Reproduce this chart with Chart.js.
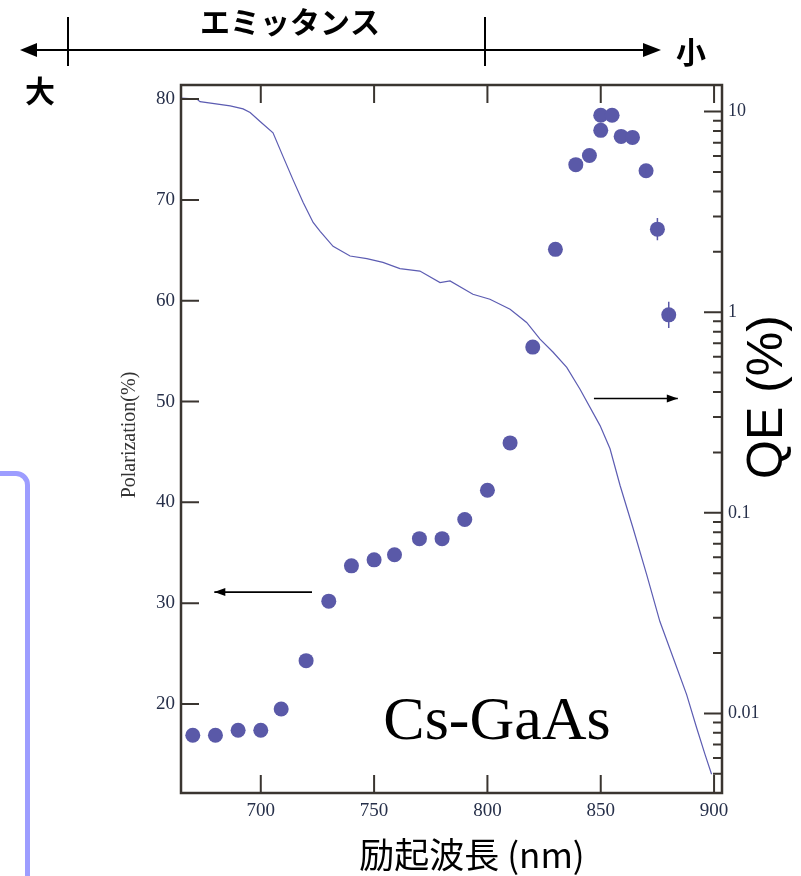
<!DOCTYPE html>
<html>
<head>
<meta charset="utf-8">
<script src="https://cdn.jsdelivr.net/npm/chart.js@4.4.1/dist/chart.umd.min.js"></script>
<style>
html, body { margin: 0; padding: 0; background: #fff; }
#wrap { position: relative; width: 801px; height: 876px; overflow: hidden; }
#box { position: absolute; left: -40px; top: 471px; width: 60px; height: 460px; border: 5px solid #9d9dff; border-radius: 14px; }
canvas { position: absolute; left: 0; top: 0; }
</style>
</head>
<body>
<div id="wrap">
  <div id="box"></div>
  <canvas id="chart" width="801" height="876"></canvas>
</div>
<script>
// 偏極度 (左軸)
const polWavelength = [670, 680, 690, 700, 709, 720, 730, 740, 750, 759, 770, 780, 790, 800, 810, 820, 830, 839, 845, 850, 850, 855, 859, 864, 870, 875, 880];
const polValues = [16.9, 16.9, 17.4, 17.4, 19.5, 24.3, 30.2, 33.7, 34.3, 34.8, 36.4, 36.4, 38.3, 41.2, 45.9, 55.4, 65.1, 73.5, 74.4, 76.9, 78.4, 78.4, 76.3, 76.2, 72.9, 67.1, 58.6];
const polErrors = [0, 0, 0, 0, 0, 0, 0, 0, 0, 0, 0, 0, 0, 0, 0, 0, 0, 0, 0, 0, 0, 0, 0, 0, 0.4, 1.1, 1.3];

// 量子効率 QE (右軸, log)
const qeWavelength = [664.8, 671.8, 673.2, 686.5, 692.2, 695.3, 699.7, 705.4, 709.8, 714.2, 718.7, 723.1, 726.2, 731.9, 739.4, 746.8, 753.9, 761.4, 770.2, 779.1, 783.5, 793.6, 801.1, 810.0, 817.3, 823.2, 828.9, 835.0, 840.8, 849.7, 854.1, 858.5, 864.3, 870.3, 876.1, 882.0, 887.9, 892.3, 896.0, 898.9];
const qeValues = [11.66, 11.56, 11.21, 10.67, 10.31, 9.89, 8.92, 7.84, 5.98, 4.58, 3.52, 2.80, 2.53, 2.13, 1.905, 1.848, 1.772, 1.649, 1.604, 1.404, 1.431, 1.229, 1.160, 1.035, 0.889, 0.734, 0.633, 0.531, 0.414, 0.272, 0.2086, 0.1372, 0.0835, 0.0490, 0.0287, 0.01889, 0.01241, 0.00848, 0.00625, 0.00497];

// 目盛り
const xTicks = [700, 750, 800, 850, 900];
const polTicks = [20, 30, 40, 50, 60, 70, 80];
const qeMajorTicks = [0.01, 0.1, 1, 10];
const qeMinorSteps = [2, 3, 4, 5, 6, 7, 8, 9];

const qeTicks = [];
[0.001, 0.01, 0.1, 1, 10].forEach(function(d) {
    qeTicks.push(d);
    qeMinorSteps.forEach(function(m) { qeTicks.push(+(d * m).toPrecision(3)); });
});

const serif = 'Liberation Serif';
const cjk = '"Noto Sans CJK JP"';
const tickColor = '#27304a';
const frameColor = '#3a3530';

// 内向き目盛りと枠
const frameTicks = {
    id: 'frameTicks',
    afterDatasetsDraw(chart) {
        const a = chart.chartArea, c = chart.ctx;
        const sx = chart.scales.x, sy = chart.scales.y, sq = chart.scales.y1;
        c.save();
        c.strokeStyle = frameColor;
        c.lineWidth = 2.5;
        c.strokeRect(a.left, a.top, a.right - a.left, a.bottom - a.top);
        c.lineWidth = 2;
        c.beginPath();
        xTicks.forEach(function(v) {
            const px = sx.getPixelForValue(v);
            c.moveTo(px, a.bottom); c.lineTo(px, a.bottom - 18);
            c.moveTo(px, a.top); c.lineTo(px, a.top + 18);
        });
        polTicks.forEach(function(v) {
            const py = sy.getPixelForValue(v);
            if (py < a.top + 2) return;
            c.moveTo(a.left, py); c.lineTo(a.left + 18, py);
        });
        qeTicks.forEach(function(v) {
            const py = sq.getPixelForValue(v);
            if (py < a.top || py > a.bottom) return;
            const len = qeMajorTicks.includes(v) ? 18 : 9;
            c.moveTo(a.right, py); c.lineTo(a.right - len, py);
        });
        c.stroke();

        // 誤差棒
        c.strokeStyle = '#5a59a8';
        c.lineWidth = 1.5;
        c.beginPath();
        polErrors.forEach(function(e, i) {
            if (!e) return;
            const px = sx.getPixelForValue(polWavelength[i]);
            c.moveTo(px, sy.getPixelForValue(polValues[i] + e));
            c.lineTo(px, sy.getPixelForValue(polValues[i] - e));
        });
        c.stroke();
        c.restore();
    }
};

function arrow(c, x1, y1, x2, y2, head, half) {
    c.beginPath();
    c.moveTo(x1, y1); c.lineTo(x2, y2);
    c.stroke();
    const dir = Math.sign(x2 - x1);
    c.beginPath();
    c.moveTo(x2, y2);
    c.lineTo(x2 - dir * head, y2 - half);
    c.lineTo(x2 - dir * head, y2 + half);
    c.closePath();
    c.fill();
}

// 注釈
const notes = {
    id: 'notes',
    afterDraw(chart) {
        const c = chart.ctx;
        const sx = chart.scales.x, sy = chart.scales.y;
        c.save();
        c.fillStyle = '#000';
        c.strokeStyle = '#000';

        // 軸の向きを示す矢印
        c.lineWidth = 1.6;
        arrow(c, sx.getPixelForValue(722.6), sy.getPixelForValue(31.1), sx.getPixelForValue(679.5), sy.getPixelForValue(31.1), 11, 4);
        arrow(c, sx.getPixelForValue(847), sy.getPixelForValue(50.3), sx.getPixelForValue(884), sy.getPixelForValue(50.3), 11, 4);

        // エミッタンス
        c.lineWidth = 2;
        c.beginPath();
        c.moveTo(36, 50); c.lineTo(644, 50);
        c.moveTo(68, 17); c.lineTo(68, 66);
        c.moveTo(485, 17); c.lineTo(485, 66);
        c.stroke();
        c.beginPath(); c.moveTo(20, 50); c.lineTo(37, 43); c.lineTo(37, 57); c.closePath(); c.fill();
        c.beginPath(); c.moveTo(661, 50); c.lineTo(643, 43); c.lineTo(643, 57); c.closePath(); c.fill();

        c.textAlign = 'center';
        c.textBaseline = 'middle';
        c.font = 'bold 30px ' + cjk;
        c.fillText('エミッタンス', 290, 22);
        c.fillText('大', 40, 91);
        c.fillText('小', 691, 52);

        c.font = '62px ' + serif;
        c.fillText('Cs-GaAs', 497, 723);

        c.font = '35px ' + cjk;
        c.fillText('励起波長 (nm)', 472, 855);

        c.save();
        c.translate(130, 435);
        c.rotate(-Math.PI / 2);
        c.fillStyle = '#333';
        c.font = '20px ' + serif;
        c.fillText('Polarization(%)', 0, 0);
        c.restore();

        c.save();
        c.translate(768, 397);
        c.rotate(-Math.PI / 2);
        c.font = '50px "Liberation Sans"';
        c.fillText('QE (%)', 0, 0);
        c.restore();

        c.restore();
    }
};

new Chart(document.getElementById('chart'), {
    data: {
        datasets: [{
            type: 'scatter',
            label: 'Polarization',
            data: polWavelength.map(function(w, i) { return { x: w, y: polValues[i] }; }),
            yAxisID: 'y',
            backgroundColor: '#5a59a8',
            borderWidth: 0,
            pointRadius: 7.5,
            pointHoverRadius: 7.5
        }, {
            type: 'line',
            label: 'QE',
            data: qeWavelength.map(function(w, i) { return { x: w, y: qeValues[i] }; }),
            yAxisID: 'y1',
            borderColor: '#5c5cb2',
            borderWidth: 1.2,
            pointRadius: 0,
            fill: false,
            tension: 0
        }]
    },
    options: {
        responsive: false,
        animation: false,
        events: [],
        layout: { padding: { top: 85, left: 0, right: 0, bottom: 0 } },
        plugins: {
            legend: { display: false },
            tooltip: { enabled: false }
        },
        scales: {
            x: {
                type: 'linear',
                position: 'bottom',
                min: 664.8,
                max: 903.5,
                afterBuildTicks: function(s) { s.ticks = xTicks.map(function(v) { return { value: v }; }); },
                afterFit: function(s) { s.height = 83; },
                grid: { display: false, drawTicks: false },
                border: { display: false },
                ticks: { font: { family: serif, size: 19 }, color: tickColor, padding: 7, maxRotation: 0 }
            },
            y: {
                type: 'linear',
                position: 'left',
                min: 11.17,
                max: 81.4,
                afterBuildTicks: function(s) { s.ticks = polTicks.map(function(v) { return { value: v }; }); },
                afterFit: function(s) { s.width = 181; },
                grid: { display: false, drawTicks: false },
                border: { display: false },
                ticks: { font: { family: serif, size: 19 }, color: tickColor, padding: 6 }
            },
            y1: {
                type: 'logarithmic',
                position: 'right',
                min: 0.00401,
                max: 13.57,
                afterBuildTicks: function(s) { s.ticks = qeTicks.filter(function(v) { return v >= 0.00401 && v <= 13.57; }).map(function(v) { return { value: v }; }); },
                afterFit: function(s) { s.width = 79; },
                grid: { display: false, drawTicks: false },
                border: { display: false },
                ticks: {
                    font: { family: serif, size: 18 },
                    color: tickColor,
                    padding: 6,
                    autoSkip: false,
                    callback: function(v) { return qeMajorTicks.includes(v) ? String(v) : ''; }
                }
            }
        }
    },
    plugins: [frameTicks, notes]
});
</script>
</body>
</html>
